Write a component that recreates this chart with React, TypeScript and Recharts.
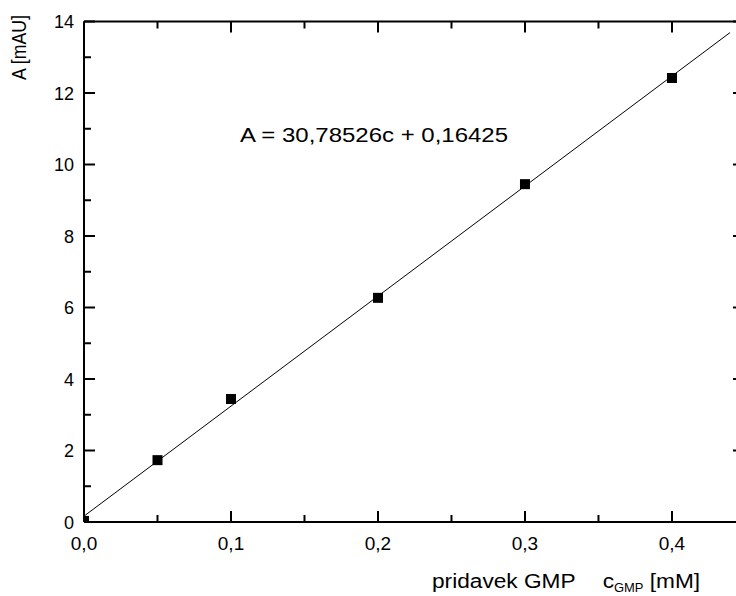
import { ComposedChart, Line, Scatter, XAxis, YAxis } from "recharts";

// measured points: GMP addition [mM] vs absorbance [mAU]
const concentrations = [0, 0.05, 0.1, 0.2, 0.3, 0.4];
const absorbances = [0.03, 1.73, 3.44, 6.27, 9.45, 12.42];

// linear fit line, end points
const fitX = [0, 0.4395];
const fitY = [0.164, 13.69];

const xMajorTicks = [0, 0.1, 0.2, 0.3, 0.4];
const xMinorTicks = [0.05, 0.15, 0.25, 0.35];
const yMajorTicks = [0, 2, 4, 6, 8, 10, 12, 14];
const yMinorTicks = [1, 3, 5, 7, 9, 11, 13];

const equation = "A = 30,78526c + 0,16425";

const points = concentrations.map((c, i) => ({ c, a: absorbances[i] }));
const fit = fitX.map((c, i) => ({ c, a: fitY[i] }));

const FONT = '"Liberation Sans", Arial, sans-serif';
const MAJOR = 11;
const MINOR = 7;

const fmt = (v: number) => v.toFixed(1).replace(".", ",");

const BottomTick = (props: any) => {
  const { x, y, payload } = props;
  const major = xMajorTicks.includes(payload.value);
  return (
    <g>
      <line x1={x} y1={y} x2={x} y2={y - (major ? MAJOR : MINOR)} stroke="#000" strokeWidth={2} />
      {major && (
        <text x={x} y={y + 28} textAnchor="middle" fontSize={19} fontFamily={FONT} fill="#000">
          {fmt(payload.value)}
        </text>
      )}
    </g>
  );
};

const TopTick = (props: any) => {
  const { x, y, payload } = props;
  const major = xMajorTicks.includes(payload.value);
  return <line x1={x} y1={y} x2={x} y2={y + (major ? MAJOR : MINOR)} stroke="#000" strokeWidth={2} />;
};

const LeftTick = (props: any) => {
  const { x, y, payload } = props;
  const major = yMajorTicks.includes(payload.value);
  return (
    <g>
      <line x1={x} y1={y} x2={x + (major ? MAJOR : MINOR)} y2={y} stroke="#000" strokeWidth={2} />
      {major && (
        <text x={x - 10} y={y + 6.5} textAnchor="end" fontSize={18} fontFamily={FONT} fill="#000">
          {payload.value}
        </text>
      )}
    </g>
  );
};

const RightTick = (props: any) => {
  const { x, y, payload } = props;
  const major = yMajorTicks.includes(payload.value);
  return <line x1={x} y1={y} x2={x - (major ? MAJOR : MINOR)} y2={y} stroke="#000" strokeWidth={2} />;
};

const Square = (props: any) => {
  const { cx, cy } = props;
  return <rect x={cx - 5} y={cy - 5} width={10} height={10} fill="#000" />;
};

export default function App() {
  const xTicks = [...xMajorTicks, ...xMinorTicks].sort((a, b) => a - b);
  const yTicks = [...yMajorTicks, ...yMinorTicks].sort((a, b) => a - b);
  const axisLine = { stroke: "#000", strokeWidth: 2 };

  return (
    <div style={{ position: "absolute", left: 0, top: 0, width: 736, height: 596, overflow: "hidden", background: "#fff" }}>
      <ComposedChart width={760} height={596} margin={{ top: 20.5, right: 15, bottom: 73, left: 83 }}>
        <XAxis
          xAxisId="b"
          type="number"
          dataKey="c"
          domain={[0, 0.449]}
          ticks={xTicks}
          interval={0}
          allowDataOverflow
          height={1}
          tickSize={0}
          tickMargin={0}
          tickLine={false}
          axisLine={axisLine}
          tick={<BottomTick />}
        />
        <XAxis
          xAxisId="t"
          orientation="top"
          type="number"
          dataKey="c"
          domain={[0, 0.449]}
          ticks={xTicks}
          interval={0}
          allowDataOverflow
          height={1}
          tickSize={0}
          tickMargin={0}
          tickLine={false}
          axisLine={axisLine}
          tick={<TopTick />}
        />
        <YAxis
          yAxisId="l"
          type="number"
          domain={[0, 14]}
          ticks={yTicks}
          interval={0}
          allowDataOverflow
          width={1}
          tickSize={0}
          tickMargin={0}
          tickLine={false}
          axisLine={axisLine}
          tick={<LeftTick />}
        />
        <YAxis
          yAxisId="r"
          orientation="right"
          type="number"
          domain={[0, 14]}
          ticks={yTicks}
          interval={0}
          allowDataOverflow
          width={1}
          tickSize={0}
          tickMargin={0}
          tickLine={false}
          axisLine={axisLine}
          tick={<RightTick />}
        />
        <Line
          xAxisId="b"
          yAxisId="l"
          data={fit}
          dataKey="a"
          type="linear"
          stroke="#000"
          strokeWidth={1}
          dot={false}
          activeDot={false}
          isAnimationActive={false}
        />
        <Scatter
          xAxisId="b"
          yAxisId="l"
          data={points}
          dataKey="a"
          shape={<Square />}
          isAnimationActive={false}
        />
        <text x={240} y={142} fontSize={20} fontFamily={FONT} fill="#000" textLength={268} lengthAdjust="spacingAndGlyphs">
          {equation}
        </text>
        <text
          x={26}
          y={47.5}
          transform="rotate(-90 26 47.5)"
          textAnchor="middle"
          fontSize={20}
          fontFamily={FONT}
          fill="#000"
          textLength={65}
          lengthAdjust="spacingAndGlyphs"
        >
          A [mAU]
        </text>
        <g transform="translate(432 588) scale(1.08 1)">
          <text x={0} y={0} fontSize={21} fontFamily={FONT} fill="#000">
            pridavek GMP
            <tspan x={158}>c</tspan>
            <tspan fontSize={12} dy={4}>GMP</tspan>
            <tspan dy={-4}> [mM]</tspan>
          </text>
        </g>
      </ComposedChart>
    </div>
  );
}
